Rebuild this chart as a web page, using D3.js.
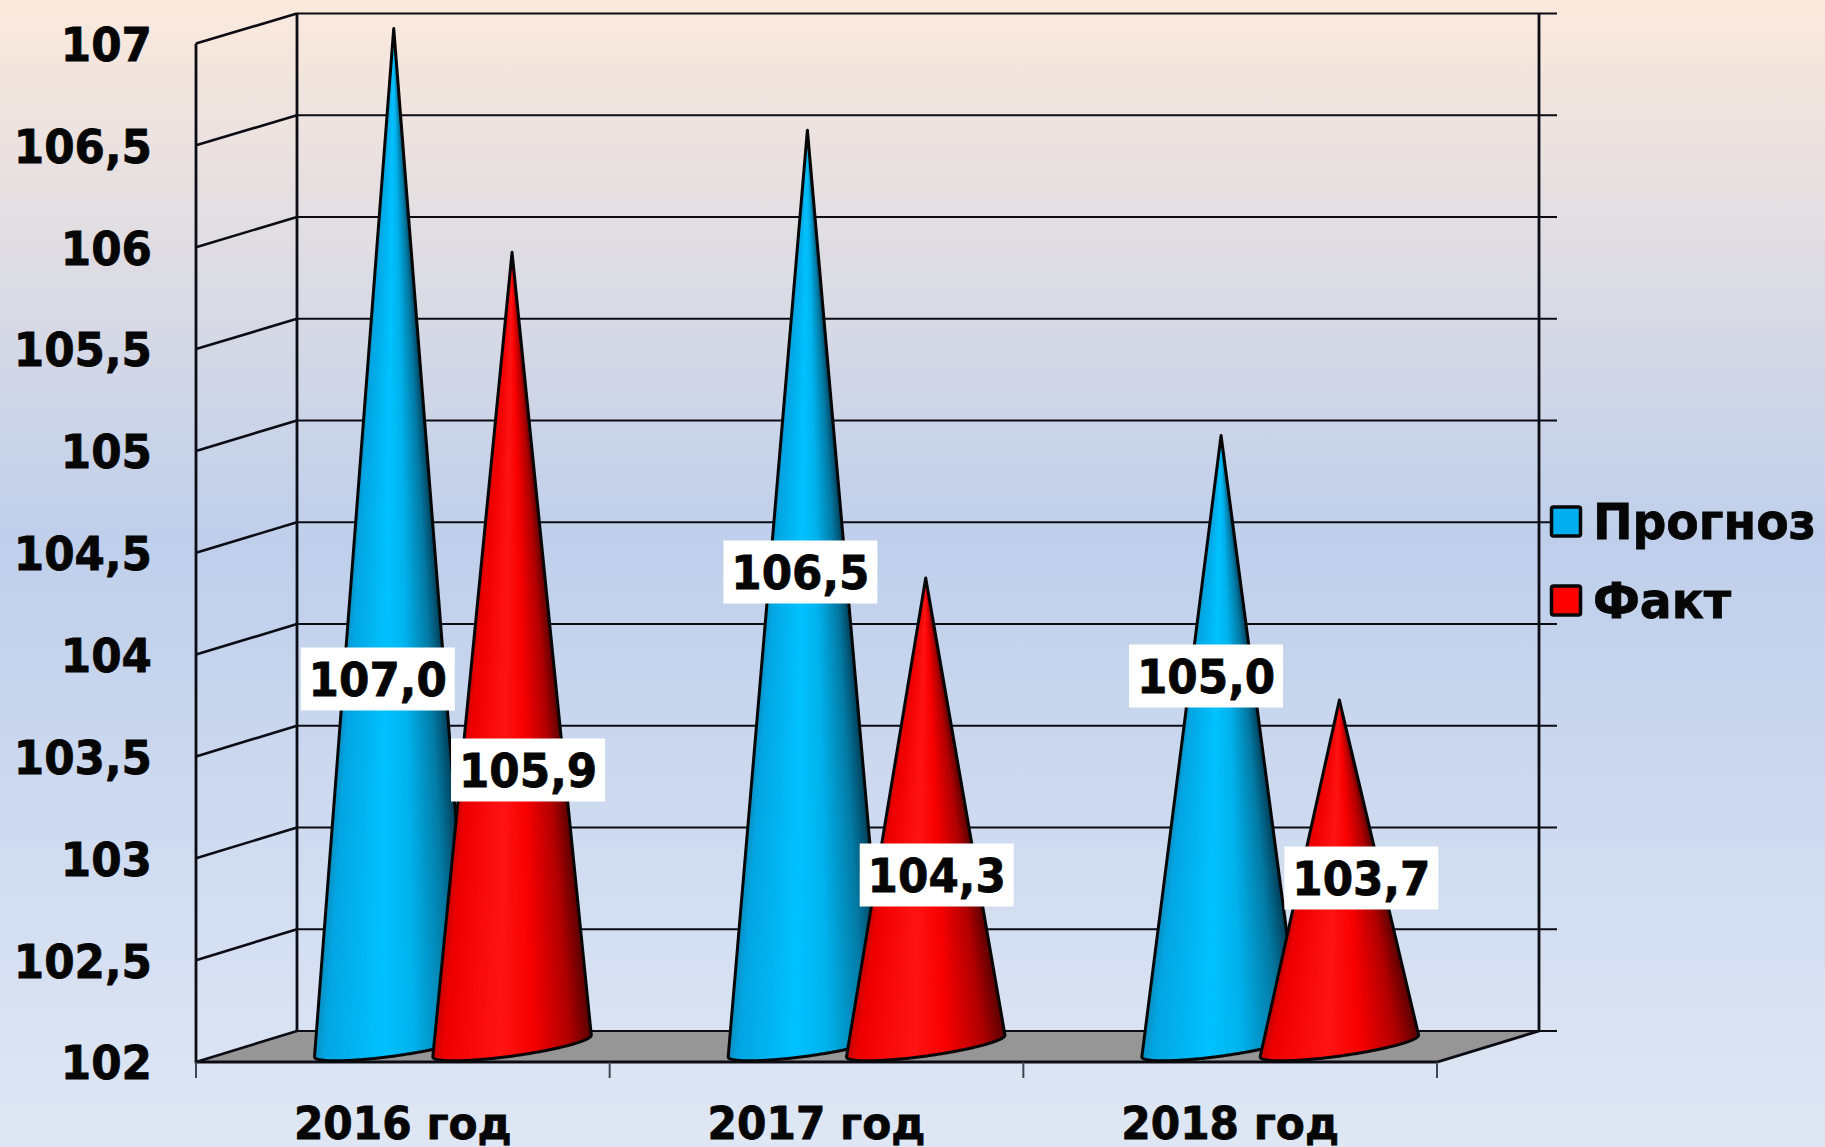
<!DOCTYPE html>
<html>
<head>
<meta charset="utf-8">
<script src="https://cdn.jsdelivr.net/npm/d3@7"></script>
<style>
  html, body { margin: 0; padding: 0; }
  svg { display: block; }
  text { font-family: "DejaVu Sans", sans-serif; font-weight: bold; fill: #060606; stroke: #060606; stroke-width: 0.8px; }
</style>
</head>
<body>
<svg id="svg"></svg>
<script>
const years = ['2016 год', '2017 год', '2018 год']
const seriesNames = ['Прогноз', 'Факт']
const forecast = [107.0, 106.5, 105.0]
const actual = [105.9, 104.3, 103.7]
const yTicks = [102, 102.5, 103, 103.5, 104, 104.5, 105, 105.5, 106, 106.5, 107]

const width = 1825
const height = 1147

const left = 196
const right = 1437
const depthX = 101

const svg = d3.select('#svg').attr('width', width).attr('height', height)
const defs = svg.append('defs')

const bg = defs.append('linearGradient').attr('id', 'bg').attr('x2', 0).attr('y2', 1)
bg.append('stop').attr('offset', 0).attr('stop-color', '#fbe9dc')
bg.append('stop').attr('offset', 0.47).attr('stop-color', '#bfcfeb')
bg.append('stop').attr('offset', 1).attr('stop-color', '#dfe7f4')
svg.append('rect').attr('width', width).attr('height', height).attr('fill', 'url(#bg)')

const locale = d3.formatLocale({ decimal: ',', thousands: ' ', grouping: [3], currency: ['', ''] })

// three depths of the box: front edge, back wall, and the middle where cones stand
const domainY = [102, 107]
const yFront = d3.scaleLinear().domain(domainY).range([1062, 43.5])
const yBack = d3.scaleLinear().domain(domainY).range([1031, 13.5])
const yMid = d3.scaleLinear().domain(domainY).range([1046, 28.5])

const x = d3.scaleBand().domain(years).range([left, right])
const step = x.step()

const line = d3.line()

// floor
svg.append('path')
  .attr('d', line([[left, yFront(102)], [left + depthX, yBack(102)], [right + depthX + 1, yBack(102)], [right, yFront(102)]]) + 'Z')
  .attr('fill', '#969696')

// grid on the walls
const grid = svg.append('g').attr('stroke', '#0c0c14').attr('fill', 'none')
grid.selectAll('line.back')
  .data(yTicks)
  .join('line')
  .attr('class', 'back')
  .attr('x1', left + depthX)
  .attr('x2', right + depthX + 19)
  .attr('y1', d => yBack(d))
  .attr('y2', d => yBack(d))
  .attr('stroke-width', 2.2)
grid.selectAll('line.side')
  .data(yTicks)
  .join('line')
  .attr('class', 'side')
  .attr('x1', left)
  .attr('x2', left + depthX)
  .attr('y1', d => yFront(d))
  .attr('y2', d => yBack(d))
  .attr('stroke-width', 2.6)
grid.append('path')
  .attr('d', line([[left, yFront(107)], [left, yFront(102)], [right, yFront(102)], [right + depthX + 1, yBack(102)], [right + depthX + 1, yBack(107)]]))
  .attr('stroke-width', 2.8)
grid.append('line')
  .attr('x1', left + depthX).attr('x2', left + depthX)
  .attr('y1', yBack(107)).attr('y2', yBack(102))
  .attr('stroke-width', 2.8)

// ticks between the years
grid.selectAll('line.tick')
  .data(d3.range(years.length + 1))
  .join('line')
  .attr('class', 'tick')
  .attr('x1', d => left + d * step)
  .attr('x2', d => left + d * step)
  .attr('y1', yFront(102))
  .attr('y2', yFront(102) + 16)
  .attr('stroke', '#3d4656')
  .attr('stroke-width', 2)

// narrows DejaVu to the width of the original lettering
const squeeze = (sel, k) => sel
  .attr('textLength', function () { return this.getComputedTextLength() * k })
  .attr('lengthAdjust', 'spacingAndGlyphs')

// axes
const yAxis = d3.axisLeft(yFront)
  .tickValues(yTicks)
  .tickFormat(locale.format('~g'))
  .tickSize(0)
  .tickPadding(44)
const yG = svg.append('g').attr('transform', `translate(${left},0)`).call(yAxis)
yG.select('.domain').remove()
yG.selectAll('text')
  .attr('font-size', 47)
  .attr('dy', '0.36em')
  .style('font-family', '"DejaVu Sans", sans-serif')
  .call(squeeze, 0.93)

const xAxis = d3.axisBottom(x).tickSize(0).tickPadding(45)
const xG = svg.append('g').attr('transform', `translate(0,${yFront(102)})`).call(xAxis)
xG.select('.domain').remove()
xG.selectAll('text')
  .attr('font-size', 45)
  .style('font-family', '"DejaVu Sans", sans-serif')
  .call(squeeze, 0.94)

// cones
const shades = [
  d3.scaleLinear()
    .domain([0, 0.06, 0.42, 0.62, 0.86, 1])
    .range(['#0b8fc4', '#04a6e2', '#00c2ff', '#00b2ec', '#047aa4', '#023f58']),
  d3.scaleLinear()
    .domain([0, 0.06, 0.42, 0.62, 0.86, 1])
    .range(['#c80000', '#ee0000', '#ff1414', '#f80000', '#b00000', '#5a0000'])
]

const coneOffset = [0.478, 0.764]
const baseRx = 80
const baseRy = 10
const tilt = -0.138

const coneData = [forecast, actual].flatMap((values, s) =>
  values.map((v, i) => ({ value: v, year: years[i], s })))

const coneX = d => x(d.year) + coneOffset[d.s] * step

const basePoint = (d, a) => {
  const px = baseRx * Math.cos(a)
  const py = baseRy * Math.sin(a)
  return [
    coneX(d) + px * Math.cos(tilt) - py * Math.sin(tilt),
    yMid(102) + px * Math.sin(tilt) + py * Math.cos(tilt)
  ]
}

const slices = d3.range(0, 120)
const angle = i => Math.PI - (i / 120) * Math.PI

const cones = svg.append('g')
  .selectAll('g')
  .data(coneData.slice().sort((a, b) => years.indexOf(a.year) - years.indexOf(b.year) || a.s - b.s))
  .join('g')

cones.each(function (d) {
  const g = d3.select(this)
  const apex = [coneX(d), yMid(d.value)]
  // each slice runs under the next one so no seams show
  g.selectAll('path.slice')
    .data(slices)
    .join('path')
    .attr('class', 'slice')
    .attr('d', i => line([apex, basePoint(d, angle(i)), basePoint(d, angle(Math.min(i + 3, 120)))]) + 'Z')
    .attr('fill', i => shades[d.s]((1 + Math.cos(angle(i + 0.5))) / 2))
  const rim = d3.range(0, 121).map(i => basePoint(d, angle(i)))
  g.append('path')
    .attr('d', line([apex, ...rim]) + 'Z')
    .attr('fill', 'none')
    .attr('stroke', '#070707')
    .attr('stroke-width', 3)
    .attr('stroke-linejoin', 'round')
})

// value labels were dragged by hand in the original, so each has its own nudge from the cone centre
const labelNudge = [
  [[-16, -367], [-7, -474], [-15, -370]],
  [[16, -276], [11, -171], [22, -168]]
]
const boxW = 154
const boxH = 63
const labels = svg.append('g')
  .selectAll('g')
  .data(coneData)
  .join('g')
  .attr('transform', d => {
    const n = labelNudge[d.s][years.indexOf(d.year)]
    return `translate(${coneX(d) + n[0]},${yMid(102) + n[1]})`
  })
labels.append('rect')
  .attr('x', -boxW / 2)
  .attr('y', -boxH / 2)
  .attr('width', boxW)
  .attr('height', boxH)
  .attr('fill', '#fff')
labels.append('text')
  .attr('text-anchor', 'middle')
  .attr('dy', '0.37em')
  .attr('font-size', 47)
  .text(d => locale.format('.1f')(d.value))
  .call(squeeze, 0.93)

// legend
const legendY = d3.scalePoint().domain(seriesNames).range([521.5, 600.5])
const legendColours = ['#00aeef', '#ff0000']
const legend = svg.append('g')
  .selectAll('g')
  .data(seriesNames)
  .join('g')
  .attr('transform', d => `translate(1550,${legendY(d)})`)
legend.append('rect')
  .attr('x', 1.5)
  .attr('y', -14.5)
  .attr('width', 29)
  .attr('height', 29)
  .attr('rx', 2)
  .attr('fill', (d, i) => legendColours[i])
  .attr('stroke', '#060606')
  .attr('stroke-width', 3.5)
legend.append('text')
  .attr('x', 43)
  .attr('y', 17)
  .attr('font-size', 50)
  .text(d => d)
  .call(squeeze, 0.945)
</script>
</body>
</html>
